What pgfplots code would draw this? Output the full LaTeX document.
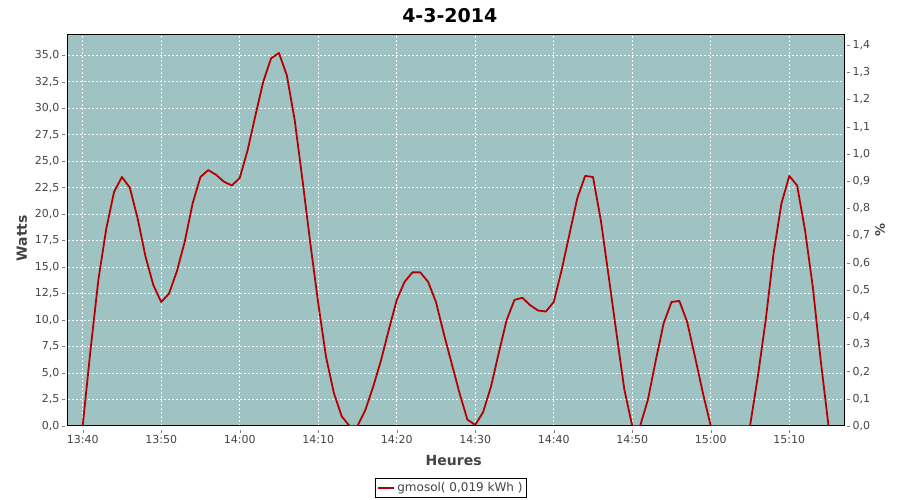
\documentclass[border=0pt]{standalone}
\usepackage{pgfplots}
\pgfplotsset{compat=1.18}
\usepackage{fontspec}
\setmainfont{DejaVu Sans}
\definecolor{bgc}{RGB}{158,195,194}
\definecolor{linec}{RGB}{180,0,0}
\definecolor{txt}{RGB}{68,68,68}
\definecolor{axg}{RGB}{128,128,128}
\pgfplotstableread{
t v
0 0
1 7.2
2 13.8
3 18.6
4 22.1
5 23.5
6 22.5
7 19.6
8 16.0
9 13.3
10 11.7
11 12.5
12 14.6
13 17.4
14 21.0
15 23.5
16 24.15
17 23.7
18 23.05
19 22.7
20 23.4
21 26.0
22 29.3
23 32.5
24 34.7
25 35.2
26 33.1
27 28.9
28 23.2
29 17.2
30 11.6
31 6.5
32 3.1
33 0.9
34 0
35 0
36 1.5
37 3.7
38 6.2
39 9.1
40 11.9
41 13.6
42 14.5
43 14.5
44 13.6
45 11.7
46 8.7
47 5.9
48 3.1
49 0.6
50 0.1
51 1.3
52 3.7
53 6.9
54 10.0
55 11.9
56 12.1
57 11.4
58 10.9
59 10.8
60 11.7
61 14.7
62 18.1
63 21.5
64 23.6
65 23.5
66 19.4
67 14.1
68 8.7
69 3.4
70 0
71 0
72 2.5
73 6.2
74 9.7
75 11.7
76 11.8
77 9.8
78 6.5
79 3.1
80 0
81 0
82 0
83 0
84 0
85 0
86 4.7
87 10.0
88 16.3
89 21.0
90 23.6
91 22.7
92 18.5
93 13.1
94 6.2
95 0
}\data
\begin{document}
\begin{tikzpicture}
\begin{axis}[
  name=main,
  scale only axis, width=776pt, height=391pt,
  xmin=-1.87, xmax=96.97, ymin=0, ymax=36.9,
  axis background/.style={fill=bgc},
  axis line style={black, line width=1pt},
  xtick={0,10,...,90},
  xticklabels={13:40,13:50,14:00,14:10,14:20,14:30,14:40,14:50,15:00,15:10},
  ytick={0,2.5,...,35},
  tick align=outside, major tick length=3pt,
  every major y tick/.append style={axg, xshift=-3pt},
  every major x tick/.append style={axg, yshift=-4pt},
  xtick pos=bottom, ytick pos=left,
  /pgf/number format/assume math mode=true,
  y tick label style={/pgf/number format/fixed, /pgf/number format/fixed zerofill, /pgf/number format/precision=1, /pgf/number format/use comma},
  ticklabel style={font=\fontsize{11}{13}\selectfont, text=txt},
  yticklabel style={xshift=-2pt},
  xticklabel style={yshift=-3pt},
  grid=major,
  major grid style={white, line width=0.8pt, dash pattern=on 2pt off 2pt},
  title={4-3-2014},
  title style={at={(0.492,1)}, anchor=center, yshift=13pt, font=\fontsize{19}{22}\selectfont\bfseries},
  xlabel={Heures},
  xlabel style={at={(0.497,-0.087)}, anchor=center, font=\fontsize{14}{16}\selectfont\bfseries, text=txt},
  ylabel={Watts},
  ylabel style={at={(-0.0593,0.48)}, anchor=center, font=\fontsize{14}{16}\selectfont\bfseries, text=txt},
  legend style={at={(0.4936,-0.133)}, anchor=north, draw=black, line width=0.8pt, font=\fontsize{12}{14}\selectfont, text=txt, inner sep=2pt, row sep=0pt},
  legend image code/.code={\draw[linec, line width=1.8pt] (0pt,0pt) -- (16pt,0pt);},
]
\addplot[linec, line width=1.8pt, line join=round] table[x=t, y=v] {\data};
\addlegendentry{gmosol( 0,019 kWh )}
\draw[axg, line width=0.8pt] ([xshift=-3.5pt]rel axis cs:0,0) -- ([xshift=-3.5pt]rel axis cs:0,1);
\draw[axg, line width=0.8pt] ([yshift=-4pt]rel axis cs:0,0) -- ([yshift=-4pt]rel axis cs:1,0);
\end{axis}
\begin{axis}[
  scale only axis, width=776pt, height=391pt,
  xmin=-1.87, xmax=96.97, ymin=0, ymax=1.437,
  axis x line=none, axis y line*=right,
  axis line style={draw=none},
  ytick={0,0.1,...,1.45},
  tick align=outside, major tick length=3pt,
  every major y tick/.append style={axg, xshift=3pt},
  /pgf/number format/assume math mode=true,
  y tick label style={/pgf/number format/fixed, /pgf/number format/fixed zerofill, /pgf/number format/precision=1, /pgf/number format/use comma},
  ticklabel style={font=\fontsize{11}{13}\selectfont, text=txt},
  yticklabel style={xshift=2pt},
  ylabel={\%},
  ylabel style={at={(1.0464,0.5)}, anchor=center, rotate=180, font=\fontsize{13}{15}\selectfont\bfseries, text=txt},
]
\draw[axg, line width=0.8pt] ([xshift=3.5pt]rel axis cs:1,0) -- ([xshift=3.5pt]rel axis cs:1,1);
\end{axis}
\pgfresetboundingbox
\path[use as bounding box] ([xshift=-68pt,yshift=-74pt]main.south west) rectangle ++(900pt,500pt);
\end{tikzpicture}
\end{document}
